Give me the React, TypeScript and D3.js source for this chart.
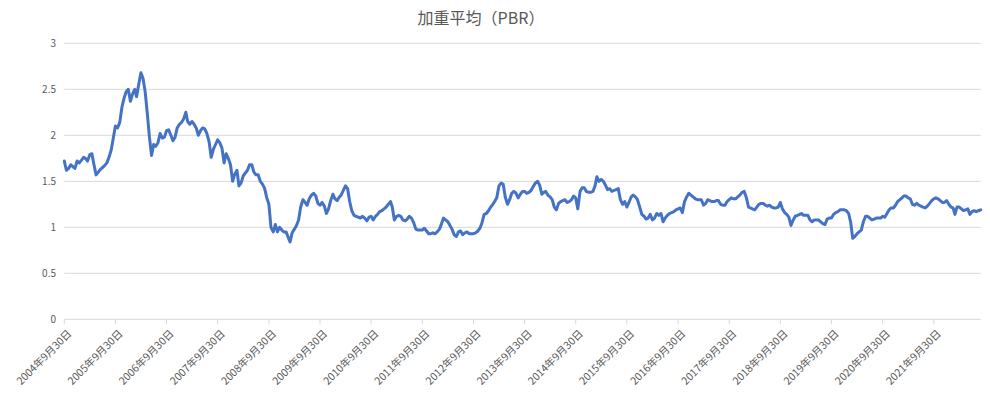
import { useMemo } from "react";
import * as d3 from "d3";

// month-end PBR readings, Sep 2004 .. Aug 2022
const pbrMonthEnd = [
  1.72, 1.64, 1.66, 1.72, 1.73, 1.75, 1.79, 1.68, 1.6, 1.65, 1.7, 1.84,
  2.1, 2.14, 2.4, 2.5, 2.45, 2.42, 2.68, 2.48, 1.98, 1.9, 1.92, 1.97,
  2.05, 2.0, 1.98, 2.12, 2.18, 2.15, 2.15, 2.08, 2.05, 2.07, 1.93, 1.85,
  1.95, 1.86, 1.8, 1.68, 1.58, 1.45, 1.56, 1.62, 1.68, 1.57, 1.5, 1.42,
  1.25, 0.95, 0.95, 0.97, 0.95, 0.84, 0.98, 1.08, 1.3, 1.24, 1.35, 1.34,
  1.24, 1.23, 1.2, 1.36, 1.29, 1.35, 1.45, 1.28, 1.13, 1.11, 1.12, 1.07,
  1.12, 1.12, 1.17, 1.2, 1.25, 1.22, 1.12, 1.12, 1.07, 1.12, 1.05, 0.97,
  0.97, 0.96, 0.93, 0.93, 0.98, 1.1, 1.06, 0.98, 0.9, 0.96, 0.94, 0.93,
  0.93, 0.96, 1.05, 1.15, 1.22, 1.28, 1.45, 1.47, 1.25, 1.37, 1.37, 1.36,
  1.39, 1.38, 1.44, 1.5, 1.36, 1.39, 1.33, 1.22, 1.26, 1.29, 1.27, 1.3,
  1.32, 1.39, 1.43, 1.38, 1.39, 1.55, 1.52, 1.46, 1.42, 1.4, 1.42, 1.25,
  1.22, 1.33, 1.33, 1.22, 1.12, 1.1, 1.08, 1.15, 1.15, 1.1, 1.15, 1.17,
  1.2, 1.16, 1.33, 1.35, 1.31, 1.3, 1.24, 1.3, 1.28, 1.29, 1.25, 1.24,
  1.3, 1.31, 1.33, 1.38, 1.32, 1.21, 1.19, 1.25, 1.26, 1.23, 1.22, 1.21,
  1.27, 1.16, 1.11, 1.08, 1.13, 1.15, 1.13, 1.08, 1.08, 1.08, 1.04, 1.09,
  1.1, 1.16, 1.19, 1.19, 1.15, 0.88, 0.93, 0.97, 1.12, 1.1, 1.09, 1.1,
  1.12, 1.15, 1.21, 1.24, 1.3, 1.34, 1.32, 1.25, 1.26, 1.23, 1.21, 1.26,
  1.31, 1.31, 1.27, 1.29, 1.22, 1.14, 1.22, 1.18, 1.2, 1.17, 1.17, 1.19,
];

// mid-month readings, Oct 15 2004 .. Aug 15 2022
const pbrMidMonth = [
  1.62, 1.68, 1.64, 1.7, 1.76, 1.72, 1.8, 1.57, 1.63, 1.67, 1.76, 1.97,
  2.08, 2.3, 2.47, 2.37, 2.5, 2.55, 2.62, 2.25, 1.78, 1.88, 2.02, 1.98,
  2.06, 1.94, 2.08, 2.14, 2.25, 2.12, 2.12, 2.0, 2.08, 2.02, 1.76, 1.9,
  1.92, 1.7, 1.75, 1.5, 1.62, 1.48, 1.59, 1.68, 1.6, 1.57, 1.47, 1.32,
  1.0, 1.03, 1.0, 0.95, 0.89, 0.94, 1.02, 1.22, 1.27, 1.31, 1.37, 1.26,
  1.27, 1.15, 1.29, 1.31, 1.33, 1.4, 1.42, 1.18, 1.12, 1.1, 1.1, 1.11,
  1.08, 1.14, 1.18, 1.22, 1.28, 1.08, 1.13, 1.08, 1.09, 1.1, 0.98, 0.97,
  0.99, 0.93, 0.94, 0.95, 1.04, 1.08, 1.02, 0.92, 0.95, 0.92, 0.95, 0.93,
  0.94, 0.99, 1.14, 1.18, 1.25, 1.32, 1.48, 1.33, 1.3, 1.39, 1.32, 1.39,
  1.37, 1.4, 1.48, 1.46, 1.38, 1.35, 1.3, 1.19, 1.28, 1.3, 1.28, 1.34,
  1.2, 1.43, 1.39, 1.38, 1.45, 1.5, 1.5, 1.41, 1.39, 1.41, 1.3, 1.28,
  1.27, 1.35, 1.3, 1.14, 1.09, 1.14, 1.1, 1.13, 1.06, 1.13, 1.16, 1.19,
  1.21, 1.28, 1.37, 1.33, 1.3, 1.3, 1.26, 1.29, 1.28, 1.29, 1.24, 1.28,
  1.32, 1.31, 1.35, 1.39, 1.22, 1.2, 1.22, 1.26, 1.24, 1.24, 1.21, 1.22,
  1.2, 1.14, 1.02, 1.12, 1.14, 1.13, 1.13, 1.06, 1.08, 1.06, 1.03, 1.1,
  1.14, 1.17, 1.19, 1.18, 1.05, 0.9, 0.95, 1.06, 1.12, 1.08, 1.1, 1.1,
  1.11, 1.19, 1.21, 1.28, 1.32, 1.34, 1.31, 1.24, 1.24, 1.22, 1.23, 1.29,
  1.32, 1.29, 1.27, 1.25, 1.21, 1.22, 1.2, 1.19, 1.14, 1.18, 1.18,
];

const tickYears = [
  2004, 2005, 2006, 2007, 2008, 2009, 2010, 2011, 2012,
  2013, 2014, 2015, 2016, 2017, 2018, 2019, 2020, 2021,
];
const yTicks = [0, 0.5, 1, 1.5, 2, 2.5, 3];
const yTickLabels = ["0", "0.5", "1", "1.5", "2", "2.5", "3"];

const title = "加重平均（PBR）";

const width = 990;
const height = 395;
const left = 64.3;
const right = 980.7;
const top = 43.3;
const bottom = 319.3;

const font = "'Noto Sans CJK JP', 'Noto Sans', sans-serif";
const textColor = "#595959";
const gridColor = "#d9d9d9";

// month end for index i, starting Sep 30 2004
const monthEnd = (i: number) => new Date(2004, 9 + i, 0);
const midMonth = (i: number) => new Date(2004, 9 + i, 15);

type Pt = { date: Date; value: number };

export default function App() {
  const data = useMemo(() => {
    const pts: Pt[] = [];
    pbrMonthEnd.forEach((v, i) => {
      pts.push({ date: monthEnd(i), value: v });
      if (i < pbrMidMonth.length)
        pts.push({ date: midMonth(i), value: pbrMidMonth[i] });
    });
    return pts;
  }, []);

  const x = d3
    .scaleTime()
    .domain([monthEnd(0), monthEnd(pbrMonthEnd.length - 1)])
    .range([left, right]);
  const y = d3.scaleLinear().domain([0, 3]).range([bottom, top]);

  const line = d3
    .line<Pt>()
    .x((d) => x(d.date))
    .y((d) => y(d.value));

  return (
    <svg
      width={width}
      height={height}
      style={{ position: "absolute", left: 0, top: 0, background: "#fff" }}
      fontFamily={font}
    >
      <text x={481} y={24} textAnchor="middle" fontSize={16} fill={textColor}>
        {title}
      </text>

      {/* gridlines + y labels */}
      {yTicks.map((t, i) => (
        <g key={t}>
          {t > 0 && (
            <line
              x1={left}
              x2={right}
              y1={y(t)}
              y2={y(t)}
              stroke={gridColor}
              strokeWidth={1}
            />
          )}
          <text
            x={56}
            y={y(t)}
            dy="0.35em"
            textAnchor="end"
            fontSize={10}
            fill={textColor}
          >
            {yTickLabels[i]}
          </text>
        </g>
      ))}

      {/* x axis */}
      <line x1={left} x2={right} y1={bottom} y2={bottom} stroke={gridColor} />
      {tickYears.map((yr) => {
        const tx = x(new Date(yr, 8, 30));
        return (
          <g key={yr}>
            <line x1={tx} x2={tx} y1={bottom} y2={bottom + 5} stroke={gridColor} />
            <text
              transform={`translate(${tx + 8},${bottom + 15}) rotate(-45)`}
              textAnchor="end"
              fontSize={10.5}
              fill={textColor}
            >
              {`${yr}年9月30日`}
            </text>
          </g>
        );
      })}

      <path
        d={line(data) ?? ""}
        fill="none"
        stroke="#4472C4"
        strokeWidth={3}
        strokeLinejoin="round"
        strokeLinecap="round"
      />
    </svg>
  );
}
